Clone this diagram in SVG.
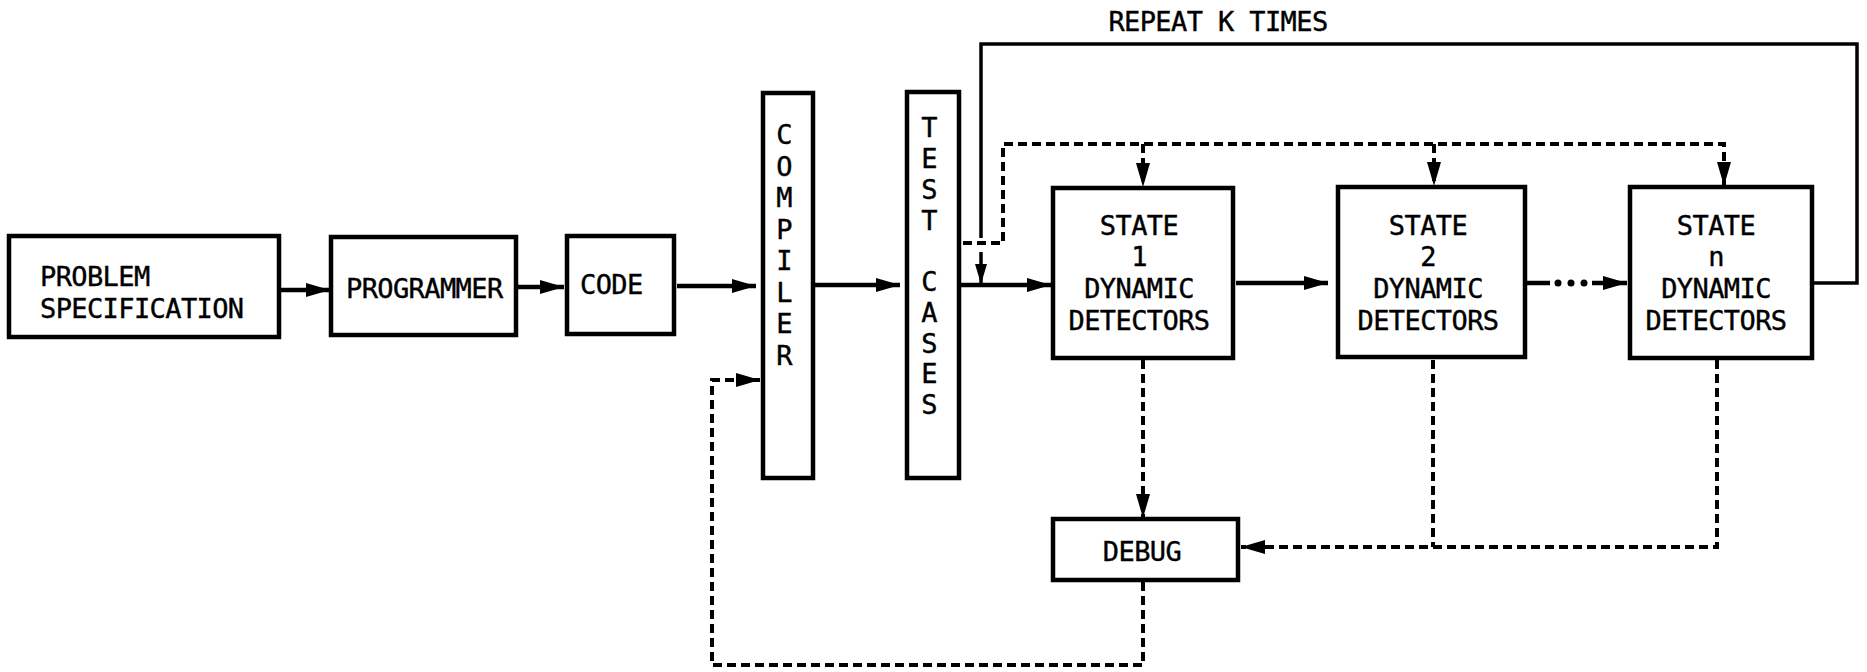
<svg xmlns="http://www.w3.org/2000/svg" width="1867" height="672" viewBox="0 0 1867 672">
<style>
.box{fill:#fff;stroke:#000;stroke-width:4.5}
.t{font-family:"DejaVu Sans Mono","Liberation Mono",monospace;font-size:27px;letter-spacing:-0.6px;fill:#000;stroke:#000;stroke-width:0.4}
.c{text-anchor:middle}
.ln{fill:none;stroke:#000;stroke-width:4.5}
.thin{fill:none;stroke:#000;stroke-width:3.5}
.dash{fill:none;stroke:#000;stroke-width:4;stroke-dasharray:9 5}
</style>
<defs>
<marker id="ah" markerUnits="userSpaceOnUse" markerWidth="26" markerHeight="16" refX="24" refY="8" orient="auto">
<path d="M0,1 L24,8 L0,15 Z" fill="#000"/>
</marker>
<marker id="ahs" markerUnits="userSpaceOnUse" markerWidth="22" markerHeight="14" refX="20" refY="7" orient="auto">
<path d="M0,1 L20,7 L0,13 Z" fill="#000"/>
</marker>
</defs>
<rect width="1867" height="672" fill="#fff"/>

<g id="connectors">
<line class="ln" x1="281" y1="290" x2="330" y2="290" marker-end="url(#ah)"/>
<line class="ln" x1="518" y1="287" x2="564" y2="287" marker-end="url(#ah)"/>
<line class="ln" x1="677" y1="286" x2="756" y2="286" marker-end="url(#ah)"/>
<line class="ln" x1="815" y1="285" x2="900" y2="285" marker-end="url(#ah)"/>
<line class="ln" x1="961" y1="285" x2="1051" y2="285" marker-end="url(#ah)"/>
<line class="ln" x1="1236" y1="283" x2="1328" y2="283" marker-end="url(#ah)"/>
<line class="ln" x1="1527" y1="283" x2="1550" y2="283"/>
<circle cx="1558" cy="283" r="3.5"/>
<circle cx="1571" cy="283" r="3.5"/>
<circle cx="1584" cy="283" r="3.5"/>
<line class="ln" x1="1592" y1="283" x2="1627" y2="283" marker-end="url(#ah)"/>
<path class="thin" d="M1814,283 H1857 V44 H981 V238"/>
<line class="thin" x1="981" y1="252" x2="981" y2="284" marker-end="url(#ahs)"/>
<path class="dash" d="M963,243 H1003 V144 H1724 V186" marker-end="url(#ah)"/>
<line class="dash" x1="1143" y1="144" x2="1143" y2="187" marker-end="url(#ah)"/>
<line class="dash" x1="1434" y1="144" x2="1434" y2="186" marker-end="url(#ah)"/>
<line class="dash" x1="1143" y1="360" x2="1143" y2="518" marker-end="url(#ah)"/>
<line class="dash" x1="1433" y1="360" x2="1433" y2="547"/>
<path class="dash" d="M1717,360 V547 H1241" marker-end="url(#ah)"/>
<path class="dash" d="M1143,582 V665 H712 V380 H760" marker-end="url(#ah)"/>
</g>

<g id="repeat-label">
<text class="t c" x="1218" y="31">REPEAT K TIMES</text>
</g>

<g id="problem">
<rect class="box" x="9" y="236" width="270" height="101"/>
<text class="t" x="40" y="286">PROBLEM</text>
<text class="t" x="40" y="318">SPECIFICATION</text>
</g>

<g id="programmer">
<rect class="box" x="331" y="237" width="185" height="98"/>
<text class="t" x="346" y="298">PROGRAMMER</text>
</g>

<g id="code">
<rect class="box" x="567" y="236" width="107" height="98"/>
<text class="t" x="580" y="294">CODE</text>
</g>

<g id="compiler">
<rect class="box" x="763" y="93" width="50" height="385"/>
<text class="t c" x="784" y="144">C</text>
<text class="t c" x="784" y="176">O</text>
<text class="t c" x="784" y="207">M</text>
<text class="t c" x="784" y="239">P</text>
<text class="t c" x="784" y="270">I</text>
<text class="t c" x="784" y="302">L</text>
<text class="t c" x="784" y="333">E</text>
<text class="t c" x="784" y="365">R</text>
</g>

<g id="test-cases">
<rect class="box" x="907" y="92" width="52" height="386"/>
<text class="t c" x="929" y="137">T</text>
<text class="t c" x="929" y="168">E</text>
<text class="t c" x="929" y="199">S</text>
<text class="t c" x="929" y="230">T</text>
<text class="t c" x="929" y="291">C</text>
<text class="t c" x="929" y="322">A</text>
<text class="t c" x="929" y="353">S</text>
<text class="t c" x="929" y="383">E</text>
<text class="t c" x="929" y="414">S</text>
</g>

<g id="state1">
<rect class="box" x="1053" y="188" width="180" height="170"/>
<text class="t c" x="1139" y="235">STATE</text>
<text class="t c" x="1139" y="266">1</text>
<text class="t c" x="1139" y="298">DYNAMIC</text>
<text class="t c" x="1139" y="330">DETECTORS</text>
</g>

<g id="state2">
<rect class="box" x="1338" y="187" width="187" height="170"/>
<text class="t c" x="1428" y="235">STATE</text>
<text class="t c" x="1428" y="266">2</text>
<text class="t c" x="1428" y="298">DYNAMIC</text>
<text class="t c" x="1428" y="330">DETECTORS</text>
</g>

<g id="staten">
<rect class="box" x="1630" y="187" width="182" height="171"/>
<text class="t c" x="1716" y="235">STATE</text>
<text class="t c" x="1716" y="266">n</text>
<text class="t c" x="1716" y="298">DYNAMIC</text>
<text class="t c" x="1716" y="330">DETECTORS</text>
</g>

<g id="debug">
<rect class="box" x="1053" y="519" width="185" height="61"/>
<text class="t c" x="1142" y="561">DEBUG</text>
</g>
</svg>
